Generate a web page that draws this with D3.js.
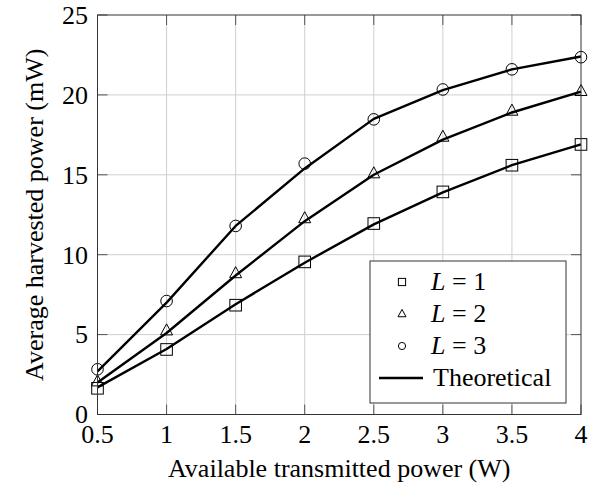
<!DOCTYPE html>
<html><head><meta charset="utf-8">
<script src="https://cdn.jsdelivr.net/npm/d3@7"></script>
</head><body style="margin:0;background:#fff">
<svg id="c" width="600" height="486" style="display:block"></svg>
<script>
const xValues = [0.5, 1, 1.5, 2, 2.5, 3, 3.5, 4];
const simL1 = [1.64, 4.07, 6.84, 9.55, 11.95, 13.93, 15.6, 16.9];
const simL2 = [2.05, 5.24, 8.82, 12.26, 15.07, 17.36, 18.99, 20.22];
const simL3 = [2.83, 7.1, 11.8, 15.7, 18.47, 20.34, 21.6, 22.36];
const theoL1 = [1.7, 4.1, 6.9, 9.5, 11.9, 13.9, 15.6, 16.9];
const theoL2 = [2.0, 5.1, 8.7, 12.1, 15.0, 17.2, 18.9, 20.2];
const theoL3 = [2.7, 7.0, 11.8, 15.4, 18.5, 20.3, 21.6, 22.4];
const xTicks = [0.5, 1, 1.5, 2, 2.5, 3, 3.5, 4];
const xTickLabels = ["0.5", "1", "1.5", "2", "2.5", "3", "3.5", "4"];
const yTicks = [0, 5, 10, 15, 20, 25];
const legendLabels = ["L = 1", "L = 2", "L = 3", "Theoretical"];
const xTitle = "Available transmitted power (W)";
const yTitle = "Average harvested power (mW)";

const svg = d3.select("#c");
const L = 97.5, R = 581, T = 15, B = 414.5;
const x = d3.scaleLinear().domain([0.5, 4]).range([L, R]);
const y = d3.scaleLinear().domain([0, 25]).range([B, T]);
const fs = 26;

function txt(sel) {
  return sel.append("text")
    .style("font-family", '"Liberation Serif", "Times New Roman", Tinos, serif', "important")
    .style("font-size", fs + "px", "important")
    .attr("fill", "#000");
}

// grid
const g = svg.append("g");
g.selectAll(".gx").data(xTicks.slice(1, -1)).enter().append("line")
  .attr("x1", d => x(d)).attr("x2", d => x(d)).attr("y1", T).attr("y2", B)
  .attr("stroke", "#cfcfcf").attr("stroke-width", 1);
g.selectAll(".gy").data(yTicks.slice(1, -1)).enter().append("line")
  .attr("y1", d => y(d)).attr("y2", d => y(d)).attr("x1", L).attr("x2", R)
  .attr("stroke", "#cfcfcf").attr("stroke-width", 1);

// ticks inside on all sides
const tl = 10;
xTicks.forEach(t => {
  g.append("line").attr("x1", x(t)).attr("x2", x(t)).attr("y1", B).attr("y2", B - tl).attr("stroke", "#555");
  g.append("line").attr("x1", x(t)).attr("x2", x(t)).attr("y1", T).attr("y2", T + tl).attr("stroke", "#555");
});
yTicks.forEach(t => {
  g.append("line").attr("y1", y(t)).attr("y2", y(t)).attr("x1", L).attr("x2", L + tl).attr("stroke", "#555");
  g.append("line").attr("y1", y(t)).attr("y2", y(t)).attr("x1", R).attr("x2", R - tl).attr("stroke", "#555");
});

// theoretical lines
const line = d3.line().x((d, i) => x(xValues[i])).y(d => y(d));
[theoL1, theoL2, theoL3].forEach(s => {
  svg.append("path").attr("d", line(s)).attr("fill", "none").attr("stroke", "#000")
    .attr("stroke-width", 2.4).attr("stroke-linejoin", "round");
});

// markers
function marker(sel, type, cx, cy, s) {
  if (type === 0) {
    sel.append("rect").attr("x", cx - s).attr("y", cy - s).attr("width", 2 * s).attr("height", 2 * s)
      .attr("fill", "none").attr("stroke", "#000").attr("stroke-width", 1);
  } else if (type === 1) {
    const h = s * 1.15;
    sel.append("path").attr("d", `M${cx},${cy - h}L${cx + s},${cy + h * 0.6}L${cx - s},${cy + h * 0.6}Z`)
      .attr("fill", "none").attr("stroke", "#000").attr("stroke-width", 1);
  } else {
    sel.append("circle").attr("cx", cx).attr("cy", cy).attr("r", s)
      .attr("fill", "none").attr("stroke", "#000").attr("stroke-width", 1);
  }
}
[simL1, simL2, simL3].forEach((s, k) => {
  s.forEach((v, i) => marker(svg, k, x(xValues[i]), y(v), k === 1 ? 6 : 5.8));
});

// frame
svg.append("rect").attr("x", L).attr("y", T).attr("width", R - L).attr("height", B - T)
  .attr("fill", "none").attr("stroke", "#333").attr("stroke-width", 1);

// tick labels
xTicks.forEach((t, i) => {
  txt(svg).attr("x", x(t)).attr("y", 443).attr("text-anchor", "middle").text(xTickLabels[i]);
});
yTicks.forEach(t => {
  txt(svg).attr("x", 88).attr("y", y(t) + 8.8).attr("text-anchor", "end").text(t);
});

// axis titles
txt(svg).attr("x", (L + R) / 2).attr("y", 477).attr("text-anchor", "middle").text(xTitle);
txt(svg).attr("transform", `translate(43,${(T + B) / 2}) rotate(-90)`)
  .attr("text-anchor", "middle").text(yTitle);

// legend
const lg = svg.append("g");
lg.append("rect").attr("x", 370).attr("y", 261).attr("width", 196).attr("height", 142)
  .attr("fill", "#fff").attr("stroke", "#333").attr("stroke-width", 1);
for (let k = 0; k < 3; k++) {
  const cy = 282 + 32 * k;
  marker(lg, k, 402, cy, k === 1 ? 4 : 3.6);
  const t = txt(lg).attr("x", 431).attr("y", 290 + 32 * k);
  const parts = legendLabels[k].split(" = ");
  t.append("tspan").style("font-style", "italic").text(parts[0]);
  t.append("tspan").text(" = " + parts[1]);
}
lg.append("line").attr("x1", 379).attr("x2", 423).attr("y1", 378).attr("y2", 378)
  .attr("stroke", "#000").attr("stroke-width", 2.4);
txt(lg).attr("x", 433).attr("y", 386).text(legendLabels[3]);
</script>
</body></html>
